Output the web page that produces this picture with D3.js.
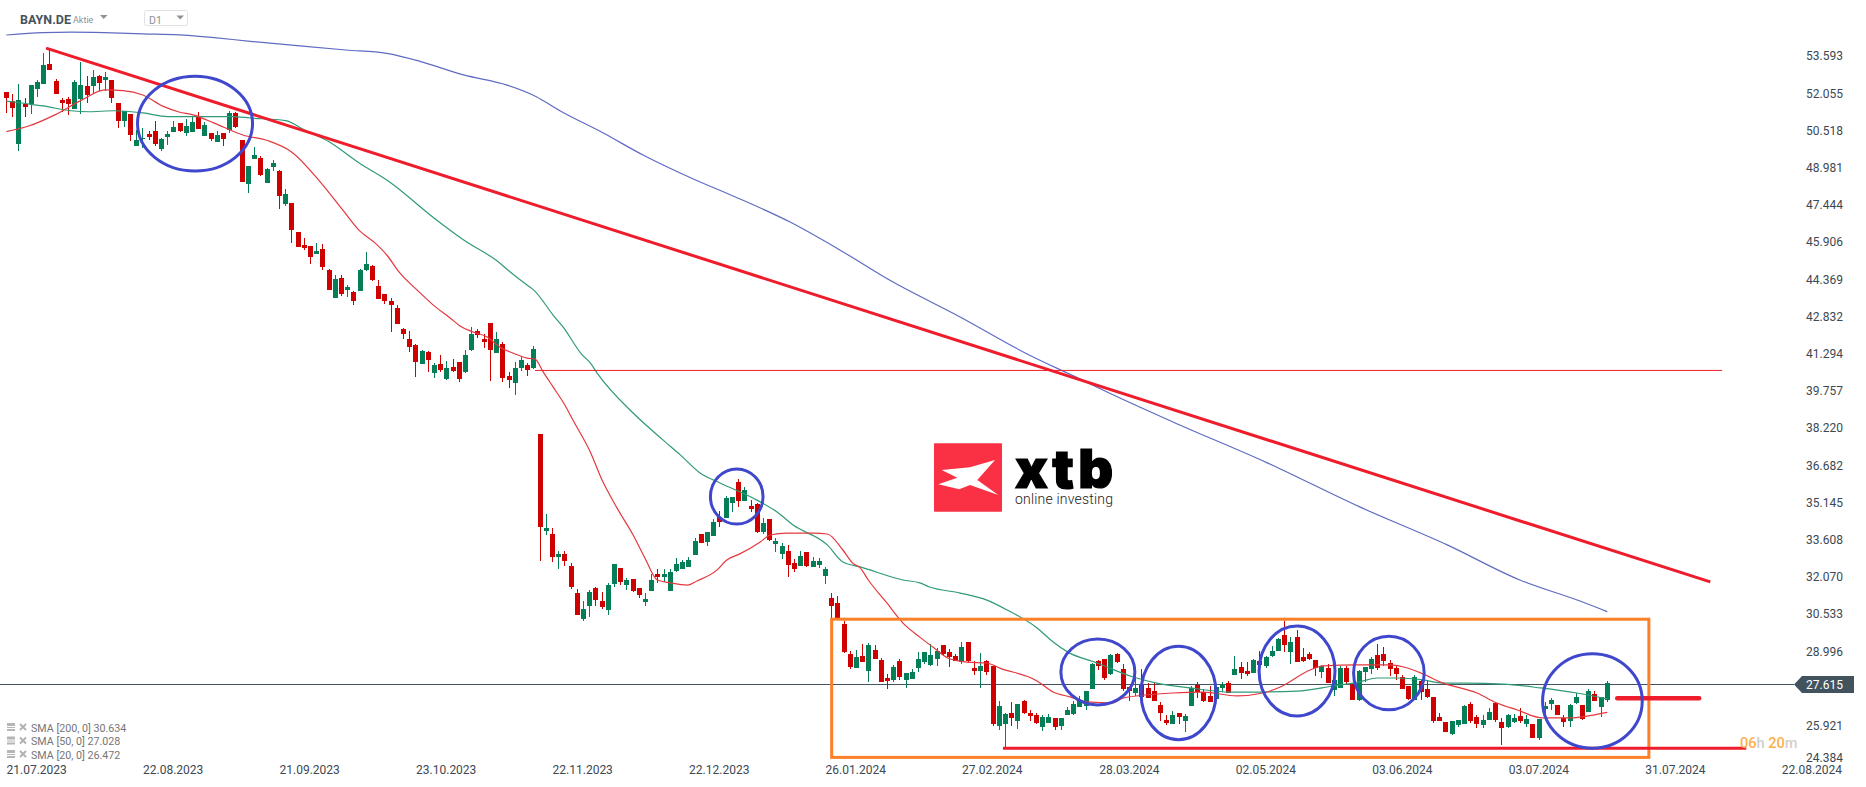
<!DOCTYPE html>
<html>
<head>
<meta charset="utf-8">
<title>BAYN.DE</title>
<script src="https://cdn.jsdelivr.net/npm/d3@7"></script>
<style>
  html, body { margin: 0; padding: 0; background: #fff; overflow: hidden; }
  text { font-family: Roboto, sans-serif; }
</style>
</head>
<body>
<div id="chart"></div>
<script>
// OHLC per daily bar
var opens = [
  52.11,51.72,49.96,51.61,51.60,52.23,52.44,53.26,52.56,51.78,
  51.82,51.42,51.82,52.35,52.35,52.77,52.60,52.60,51.65,50.92,
  51.20,49.89,50.15,50.37,50.49,49.75,50.25,50.47,50.81,50.41,
  50.47,51.07,50.30,50.40,50.05,50.40,50.54,51.22,50.12,48.30,
  49.35,49.38,48.36,49.02,48.84,47.48,47.52,46.32,45.78,45.74,
  45.41,45.62,44.75,43.59,44.42,43.92,43.85,43.88,44.75,44.92,
  44.09,43.76,43.47,43.18,42.31,41.90,41.65,40.87,41.36,40.49,
  40.87,40.25,40.74,40.95,40.54,41.45,42.23,41.90,42.56,41.32,
  41.69,40.37,40.08,40.70,40.82,40.70,37.97,33.97,33.84,32.89,
  33.02,32.52,31.40,30.33,30.87,31.61,31.07,30.70,31.78,32.44,
  31.73,31.98,31.61,31.03,31.49,32.19,32.06,31.49,32.31,32.40,
  32.48,32.97,33.84,33.51,33.76,34.54,34.50,35.12,35.99,35.21,
  35.00,35.08,33.92,34.46,33.43,33.02,33.14,32.64,32.52,33.10,
  32.48,32.56,32.11,31.20,30.99,30.12,28.88,28.30,28.80,28.18,
  29.05,28.63,27.89,27.81,28.59,27.81,27.85,28.30,28.55,28.43,
  28.68,29.25,28.97,28.80,28.55,29.38,28.30,28.18,28.59,28.39,
  25.91,25.99,26.44,26.11,26.94,26.44,26.36,25.87,26.03,26.24,
  25.91,26.36,26.40,26.69,26.73,27.44,28.59,28.68,28.06,28.88,
  28.26,27.52,27.27,27.60,27.48,27.35,26.78,26.16,25.99,26.45,
  26.11,26.73,27.60,27.31,27.15,27.02,27.48,27.68,28.02,28.35,
  28.18,28.10,28.59,28.39,28.80,29.01,29.67,28.97,29.58,28.76,
  28.88,28.64,28.14,28.30,27.40,27.48,28.30,27.64,26.98,28.14,
  28.26,28.84,28.88,28.51,28.30,27.93,27.56,26.98,27.77,27.44,
  27.11,26.28,26.07,25.58,25.95,25.99,26.82,26.28,25.95,26.15,
  26.86,26.07,25.87,26.07,26.32,25.99,25.99,25.41,26.61,26.82,
  26.77,26.24,26.11,26.86,26.77,26.49,27.23,26.69,26.98
];
var closes = [
  51.86,51.46,51.78,51.50,52.39,52.53,53.22,53.01,52.02,51.64,
  51.61,52.53,52.39,51.98,52.71,52.46,52.71,51.86,50.92,51.32,
  50.33,50.12,50.22,50.23,49.96,50.16,50.36,50.66,50.49,50.70,
  50.87,50.58,50.74,50.16,50.33,50.18,51.22,50.66,48.40,49.05,
  49.50,48.68,48.92,49.17,47.82,47.89,46.42,45.71,45.65,45.29,
  45.54,44.89,43.92,44.38,43.76,44.05,43.47,44.75,45.00,44.34,
  43.55,43.47,43.30,42.52,42.11,41.57,40.95,41.40,41.03,40.82,
  40.62,40.70,40.58,40.25,41.24,42.11,42.06,41.77,41.45,41.90,
  40.29,40.20,40.70,41.03,40.62,41.49,34.13,34.09,32.89,33.02,
  32.73,31.65,30.49,30.74,31.44,31.11,30.83,31.73,32.60,31.86,
  31.94,31.49,31.32,31.16,31.94,32.06,32.19,32.27,32.60,32.68,
  32.77,33.55,33.47,33.92,34.34,34.34,35.33,35.37,35.21,35.66,
  34.87,33.92,34.30,33.59,33.55,33.35,32.56,32.40,32.93,32.52,
  32.73,32.73,32.40,30.87,30.34,28.97,28.35,28.76,28.55,29.25,
  28.68,27.73,27.77,28.35,27.93,28.10,28.14,28.68,28.97,28.84,
  29.01,28.88,28.76,28.59,29.17,28.59,28.18,28.39,28.14,25.99,
  26.73,26.40,26.24,26.82,26.44,26.32,26.03,26.28,26.28,25.87,
  26.24,26.57,26.82,26.98,27.35,28.47,28.39,27.89,28.84,28.55,
  27.44,27.35,27.48,27.12,27.06,26.94,26.45,26.03,26.36,26.28,
  26.32,27.48,27.31,26.94,26.90,27.52,27.64,27.27,28.26,28.10,
  28.06,28.64,28.43,28.76,29.01,29.50,29.25,29.38,28.55,28.59,
  28.68,28.30,28.39,27.68,27.81,28.30,27.73,26.98,28.18,28.35,
  28.68,28.30,28.59,28.26,28.06,27.44,27.02,27.93,27.31,27.11,
  26.11,26.11,25.66,26.11,26.16,26.73,26.11,25.99,26.15,26.49,
  26.15,25.82,26.36,26.24,26.11,26.20,25.41,26.20,26.73,26.98,
  26.36,26.07,26.77,27.10,26.20,27.35,26.94,27.10,27.68
];
var highs = [
  52.11,52.01,52.44,51.84,52.39,52.60,53.70,53.84,52.63,51.84,
  51.89,52.60,53.36,52.77,53.01,52.79,52.93,52.60,51.65,51.32,
  51.20,50.54,50.60,50.51,50.92,50.19,50.51,50.91,50.81,50.98,
  51.13,51.28,50.87,50.40,50.49,50.40,51.32,51.29,50.12,49.05,
  49.83,49.46,48.96,49.30,48.88,48.08,47.52,46.32,46.07,45.74,
  45.85,45.81,44.78,44.54,44.54,44.13,43.90,44.79,45.49,44.96,
  44.34,43.76,43.59,43.30,42.35,42.23,41.69,41.45,41.40,40.91,
  41.24,40.99,41.07,40.95,41.45,42.40,42.31,42.11,42.56,42.19,
  41.77,40.54,40.95,41.16,40.91,41.61,37.97,34.67,34.09,33.14,
  33.14,32.64,31.57,31.07,31.53,31.65,31.44,31.82,32.60,32.44,
  32.02,31.98,31.61,31.40,32.19,32.40,32.40,32.40,32.85,32.77,
  32.89,33.68,33.84,33.92,34.46,34.79,35.41,35.37,36.11,35.78,
  35.25,35.11,34.50,34.46,33.68,33.47,33.39,32.81,33.14,33.10,
  32.89,32.85,32.48,31.39,31.28,30.25,29.01,29.05,29.30,29.34,
  29.25,28.72,28.06,28.43,28.68,28.10,28.26,28.97,28.97,29.30,
  29.13,29.25,29.09,28.88,29.38,29.38,28.59,28.92,28.63,28.39,
  26.94,26.43,26.90,26.82,26.98,26.57,26.44,26.36,26.40,26.24,
  26.24,26.69,26.94,27.15,27.35,28.50,28.63,28.68,28.88,28.92,
  28.47,27.52,28.36,28.26,27.67,27.67,26.90,26.36,26.53,26.45,
  26.40,27.56,27.73,27.44,27.56,27.56,27.73,27.77,28.80,28.55,
  28.55,28.68,29.01,28.80,29.21,29.54,30.25,29.58,29.87,29.13,
  28.97,28.64,28.43,28.47,27.81,28.39,28.39,27.68,28.22,28.35,
  28.76,29.30,29.17,28.64,28.39,28.02,27.56,28.02,27.81,27.77,
  27.11,26.45,26.07,26.11,26.16,26.78,26.90,26.36,26.36,26.65,
  26.90,26.24,26.40,26.40,26.65,26.36,25.99,26.20,26.90,27.06,
  26.77,26.36,26.82,27.27,26.77,27.44,27.35,27.10,27.77
];
var lows = [
  51.25,51.06,49.68,51.09,51.20,51.90,52.44,53.01,52.02,51.29,
  51.16,51.42,51.20,51.64,52.05,52.15,52.16,51.64,50.60,50.67,
  50.09,49.89,49.78,50.12,49.87,49.68,49.92,50.47,50.44,50.30,
  50.47,50.58,50.30,50.08,50.05,49.87,50.43,50.62,48.40,47.95,
  49.35,48.63,48.36,48.85,47.28,47.41,45.85,45.71,45.59,45.00,
  45.41,44.75,43.92,43.59,43.68,43.63,43.30,43.88,44.71,44.30,
  43.55,43.35,42.19,42.52,41.90,41.36,40.33,40.87,40.54,40.29,
  40.54,40.20,40.54,40.12,40.49,41.40,41.94,41.53,40.16,41.32,
  40.12,39.87,39.59,40.58,40.37,40.66,32.73,33.80,32.68,32.40,
  32.52,31.57,30.49,30.25,30.41,30.87,30.74,30.49,31.65,31.73,
  31.53,31.44,31.20,30.87,31.49,31.82,31.86,31.49,32.27,32.40,
  32.48,32.97,33.47,33.35,33.76,34.13,34.50,34.75,34.96,35.21,
  34.75,33.88,33.84,33.55,33.10,32.81,32.06,32.27,32.52,32.48,
  32.48,32.44,31.78,30.34,30.34,28.92,28.26,28.30,28.55,27.73,
  28.68,27.73,27.44,27.73,27.81,27.48,27.85,28.14,28.47,28.39,
  28.39,28.84,28.35,28.59,28.47,28.51,28.01,27.48,28.01,25.91,
  25.74,25.00,25.91,25.78,26.40,26.11,25.99,25.70,26.03,25.74,
  25.74,26.36,26.36,26.69,26.57,27.44,28.22,27.81,28.01,28.51,
  27.35,26.94,27.15,27.05,27.06,26.94,26.11,25.95,25.99,25.99,
  25.66,26.73,27.06,26.90,26.90,27.02,27.31,27.27,28.02,27.85,
  27.97,28.10,28.43,28.30,28.76,29.01,28.97,28.47,28.55,28.55,
  28.64,27.97,27.89,27.68,27.15,27.48,27.64,26.98,26.94,27.73,
  28.06,28.22,28.39,27.97,27.81,27.44,26.98,26.98,26.98,27.06,
  26.03,26.11,25.66,25.54,25.87,25.99,26.03,25.82,25.82,26.15,
  26.07,25.12,25.82,26.03,26.03,25.87,25.41,25.33,26.36,26.57,
  26.36,25.87,25.87,26.82,26.15,26.49,26.94,26.28,26.90
];

// moving averages, sampled along the curves (bar number, price)
var sma200Bars = [0,5.9,10.4,15.7,22,27.8,33.5,39.3,47.3,54.7,61.3,66.8,73.7,80.7,85.4,89.2,96.2,102.6,110.7,117.1,126.3,134.3,142.9,153.7,164.5,173,176.7,188,203.2,218.1,232.2,243.9,253.6,258];
var sma200Values = [54.46,54.56,54.58,54.56,54.51,54.47,54.35,54.20,54.01,53.84,53.70,53.36,52.81,52.39,51.91,51.33,50.41,49.50,48.51,47.81,46.73,45.58,44.25,42.81,41.28,40.25,39.79,38.47,36.78,34.96,33.39,31.94,31.07,30.63];

var sma50Bars = [0,2.4,5.9,10.4,13.3,17.3,22,26,31.2,36.4,39.3,45,48,52,56.8,61.7,68.9,73.7,79.1,81.2,83.9,85,88.1,89.7,92.8,94.1,95.2,101,105.8,108.6,111.8,115,120.3,124.2,126.8,132.3,134.8,137.6,144.5,147.2,148.8,153.7,158,161.3,166.1,168.7,171,175.8,181.6,185.4,190.8,197.2,201.5,208,213.8,218.1,220.9,224.1,228.3,231.5,235.4,241.2,247.2,253.1,258];
var sma50Values = [51.73,51.65,51.53,51.33,51.29,51.33,51.24,51.09,51.09,51.09,51.03,50.92,50.54,50.05,49.18,48.40,46.90,45.99,45.12,44.67,44.13,43.92,42.89,42.40,41.24,40.91,40.49,38.84,37.73,37.11,36.36,35.95,35.33,34.75,34.21,33.39,32.68,32.48,31.94,31.82,31.65,31.40,31.11,30.70,29.96,29.38,28.97,28.51,27.93,27.68,27.48,27.31,27.31,27.35,27.56,27.73,27.89,27.89,27.81,27.68,27.68,27.64,27.48,27.27,27.03];

var sma20Bars = [0,3.6,7.8,12.2,15.9,18.8,22,25.4,27.8,30.1,33.5,38.1,42.2,45.9,50.7,54.2,56.8,59.4,61.3,63.4,66.2,68.8,71.5,73.1,75.2,77.5,79.5,81.6,83.9,85.2,86.5,88.1,90,91.3,94.1,96,98.4,101,102.9,104.9,107,109.8,111.3,114.5,116.1,118.2,121.5,123.1,125.8,130,132.3,134.8,136.4,137.6,138.9,141.9,144.5,147.2,149.3,151.7,154.8,158,160.1,166.1,168.7,171.4,174.2,178.3,179.9,188,192.8,198.3,202.5,205.3,210.1,212.2,217.7,223,228.3,231,237,240.2,243.5,247.6,252,255.7,258];
var sma20Values = [50.47,50.70,51.16,51.78,52.19,52.16,51.98,51.50,51.28,51.16,50.82,50.33,50.09,49.64,48.35,47.23,46.40,45.87,45.37,44.63,43.92,43.30,42.77,42.44,42.19,41.98,41.57,41.32,41.11,41.07,40.54,39.92,39.17,38.55,37.23,36.07,34.92,33.80,32.85,31.94,31.82,31.73,31.90,32.35,32.77,33.02,33.51,33.80,33.88,33.88,33.84,33.18,32.64,32.44,31.94,30.99,30.16,29.58,29.17,28.72,28.55,28.51,28.30,27.77,27.31,27.11,26.90,26.86,27.06,27.27,27.31,27.15,27.27,27.52,28.22,28.39,28.43,28.43,28.06,27.73,27.27,26.86,26.57,26.24,26.24,26.36,26.47];

// axis labels
var priceTicks = [53.593,52.055,50.518,48.981,47.444,45.906,44.369,42.832,41.294,39.757,38.220,36.682,35.145,33.608,32.070,30.533,28.996,25.921,24.384];
var dateTickBars = [4.8,26.8,48.8,70.8,92.8,114.8,136.8,158.8,180.9,202.9,224.9,246.9,268.9,290.9];
var dateLabels = ["21.07.2023","22.08.2023","21.09.2023","23.10.2023","22.11.2023","22.12.2023","26.01.2024","27.02.2024","28.03.2024","02.05.2024","03.06.2024","03.07.2024","31.07.2024","22.08.2024"];
var smaLegend = ["SMA [200, 0] 30.634","SMA [50, 0] 27.028","SMA [20, 0] 26.472"];
var lastPrice = 27.615;

// hand drawn annotations, in bar / price units
var trendBars = [6.4,274.6];
var trendPrices = [53.92,31.86];
var circleBars = [30.4,117.7,175.9,188.9,208,222.8,255.6];
var circlePrices = [50.80,35.39,28.14,27.27,28.18,28.10,26.94];
var circleBarRadius = [9.27,4.24,5.96,6.04,6.12,5.69,8.03];
var circlePriceRadius = [1.96,1.14,1.36,1.93,1.86,1.52,1.95];

var width = 1866, height = 787;
var textColor = "#3c4852";
var upColor = "#037e57", downColor = "#cf0000";
var annotRed = "#ef1c2b", annotBlue = "#3f48cc", annotOrange = "#fd7f28";

var svg = d3.select("#chart").append("svg")
    .attr("width", width)
    .attr("height", height)
    .style("display", "block");

var x = d3.scaleLinear().domain([0, 258]).range([6.4, 1607.3]);
var y = d3.scaleLinear().domain([53.593, 24.384]).range([56, 762.86]);

// price line under the candles
svg.append("line")
    .attr("x1", 0)
    .attr("x2", 1794)
    .attr("y1", Math.floor(y(lastPrice)) + 0.5)
    .attr("y2", Math.floor(y(lastPrice)) + 0.5)
    .style("stroke", "#44545f")
    .style("stroke-width", 1);

// candles
var candles = svg.append("g").selectAll("g")
    .data(d3.range(opens.length))
    .enter()
    .append("g")
    .style("shape-rendering", "crispEdges")
    .style("fill", function(i) { return closes[i] >= opens[i] ? upColor : downColor; });

candles.append("rect")
    .attr("x", function(i) { return Math.round(x(i) - 2.5) + 2; })
    .attr("width", 1)
    .attr("y", function(i) { return y(highs[i]); })
    .attr("height", function(i) { return y(lows[i]) - y(highs[i]); });

candles.append("rect")
    .attr("x", function(i) { return Math.round(x(i) - 2.5); })
    .attr("width", 5)
    .attr("y", function(i) { return y(Math.max(opens[i], closes[i])); })
    .attr("height", function(i) { return Math.max(1, Math.abs(y(opens[i]) - y(closes[i]))); });

// moving averages
function tegnSma(bars, values, color) {
    var line = d3.line()
        .curve(d3.curveMonotoneX)
        .x(function(d, i) { return x(bars[i]); })
        .y(function(d) { return y(d); });
    svg.append("path")
        .attr("d", line(values))
        .style("fill", "none")
        .style("stroke", color)
        .style("stroke-width", 1.2);
}
tegnSma(sma200Bars, sma200Values, "#5f6bc2");
tegnSma(sma50Bars, sma50Values, "#2f9a78");
tegnSma(sma20Bars, sma20Values, "#e4383e");

// horizontal resistance
svg.append("line")
    .attr("x1", x(85.2)).attr("x2", x(276.5))
    .attr("y1", y(40.60)).attr("y2", y(40.60))
    .style("stroke", annotRed)
    .style("stroke-width", 1);

// falling trend line
svg.append("line")
    .attr("x1", x(trendBars[0])).attr("x2", x(trendBars[1]))
    .attr("y1", y(trendPrices[0])).attr("y2", y(trendPrices[1]))
    .style("stroke", annotRed)
    .style("stroke-width", 3);

// range box
svg.append("rect")
    .attr("x", x(133))
    .attr("y", y(30.32))
    .attr("width", x(264.7) - x(133))
    .attr("height", y(24.61) - y(30.32))
    .style("fill", "none")
    .style("stroke", annotOrange)
    .style("stroke-width", 3);

// support and last level
svg.append("line")
    .attr("x1", x(160.6)).attr("x2", x(280.4))
    .attr("y1", y(24.99)).attr("y2", y(24.99))
    .style("stroke", annotRed)
    .style("stroke-width", 3);

svg.append("line")
    .attr("x1", x(259.6)).attr("x2", x(272.8))
    .attr("y1", y(27.05)).attr("y2", y(27.05))
    .style("stroke", annotRed)
    .style("stroke-width", 4.5)
    .style("stroke-linecap", "round");

// blue circles
svg.append("g").selectAll("ellipse")
    .data(circleBars)
    .enter()
    .append("ellipse")
    .attr("cx", function(d) { return x(d); })
    .attr("cy", function(d, i) { return y(circlePrices[i]); })
    .attr("rx", function(d, i) { return x(circleBarRadius[i]) - x(0); })
    .attr("ry", function(d, i) { return y(0) - y(circlePriceRadius[i]); })
    .style("fill", "none")
    .style("stroke", annotBlue)
    .style("stroke-width", 3);

// axes
var yAxis = d3.axisRight(y)
    .tickValues(priceTicks)
    .tickSize(0)
    .tickPadding(0)
    .tickFormat(d3.format(".3f"));

var yAxisG = svg.append("g")
    .attr("transform", "translate(1806,0)")
    .call(yAxis);
yAxisG.select(".domain").remove();
yAxisG.selectAll("text")
    .style("font-size", "12px")
    .style("font-family", "Roboto, sans-serif")
    .style("fill", textColor)
    .attr("dy", function(d) { return d === 24.384 ? "-0.1em" : "0.32em"; });

var xAxis = d3.axisBottom(x)
    .tickValues(dateTickBars)
    .tickSize(0)
    .tickPadding(0)
    .tickFormat(function(d, i) { return dateLabels[i]; });

var xAxisG = svg.append("g")
    .attr("transform", "translate(0,765.5)")
    .call(xAxis);
xAxisG.select(".domain").remove();
xAxisG.selectAll("text")
    .style("font-size", "12px")
    .style("font-family", "Roboto, sans-serif")
    .style("fill", textColor);

// last price tag
var tagY = Math.floor(y(lastPrice)) + 0.5;
svg.append("path")
    .attr("d", "M1794," + tagY + "L1802," + (tagY - 8.5) + "L1854," + (tagY - 8.5) + "L1854," + (tagY + 8.5) + "L1802," + (tagY + 8.5) + "Z")
    .style("fill", "#43535e");
svg.append("text")
    .attr("x", 1806)
    .attr("y", tagY + 4.5)
    .style("font-size", "12px")
    .style("fill", "#fff")
    .text(d3.format(".3f")(lastPrice));

// countdown
var countdown = svg.append("text")
    .attr("x", 1740)
    .attr("y", 748)
    .style("font-size", "14.5px")
    .style("font-weight", 500);
countdown.append("tspan").style("fill", "#fbb04e").text("06");
countdown.append("tspan").style("fill", "#cfcfcf").text("h ");
countdown.append("tspan").style("fill", "#fbb04e").text("20");
countdown.append("tspan").style("fill", "#cfcfcf").text("m");

// header
svg.append("text").attr("x", 20).attr("y", 23.5)
    .style("font-size", "12.5px").style("font-weight", 700).style("fill", "#47525c")
    .text("BAYN.DE");
svg.append("text").attr("x", 73).attr("y", 22.5)
    .style("font-size", "9px").style("fill", "#8a8f94")
    .text("Aktie");
svg.append("path").attr("d", "M100,15L107.5,15L103.7,19Z").style("fill", "#8d9296");
svg.append("rect").attr("x", 144.5).attr("y", 10.5).attr("width", 43).attr("height", 15).attr("rx", 2)
    .style("fill", "#fff").style("stroke", "#e2e2e2");
svg.append("text").attr("x", 149).attr("y", 24)
    .style("font-size", "10.5px").style("fill", "#8d9296")
    .text("D1");
svg.append("path").attr("d", "M176.5,15.5L184,15.5L180.2,19.5Z").style("fill", "#8d9296");

// SMA legend
var legend = svg.append("g").selectAll("g")
    .data(smaLegend)
    .enter()
    .append("g")
    .attr("transform", function(d, i) { return "translate(0," + (728 + i * 13.5) + ")"; });
legend.append("rect").attr("x", 7).attr("y", -5).attr("width", 8).attr("height", 3).style("fill", "#b5b5b5");
legend.append("rect").attr("x", 7).attr("y", -1).attr("width", 8).attr("height", 1).style("fill", "#b5b5b5");
legend.append("rect").attr("x", 7).attr("y", 1).attr("width", 8).attr("height", 2).style("fill", "#b5b5b5");
legend.append("path").attr("d", "M20,-4L26,2M26,-4L20,2")
    .style("stroke", "#b0b0b0").style("stroke-width", 1.8);
legend.append("text").attr("x", 31).attr("y", 3.5)
    .style("font-size", "10.7px").style("fill", "#767676")
    .text(function(d) { return d; });

// xtb logo
svg.append("rect")
    .attr("x", 934).attr("y", 443.3).attr("width", 68).attr("height", 68.4).attr("rx", 1)
    .style("fill", "#fa3044");
svg.append("polygon")
    .attr("points", "941.7,470 970,467.3 995,460 977.3,480 998.3,495 970,485 959.3,489.3 938.3,484.3 957.3,477.7")
    .style("fill", "#fff");
svg.append("text")
    .attr("x", 1015).attr("y", 488)
    .attr("textLength", 98)
    .style("font-family", "Inter, Roboto, sans-serif")
    .style("font-size", "54px").style("font-weight", 900).style("fill", "#000")
    .style("stroke", "#000").style("stroke-width", 1.2)
    .text("xtb");
svg.append("text")
    .attr("x", 1015).attr("y", 504)
    .attr("textLength", 98)
    .style("font-size", "14px").style("font-weight", 300).style("fill", "#1a1a1a")
    .text("online investing");
</script>
</body>
</html>
